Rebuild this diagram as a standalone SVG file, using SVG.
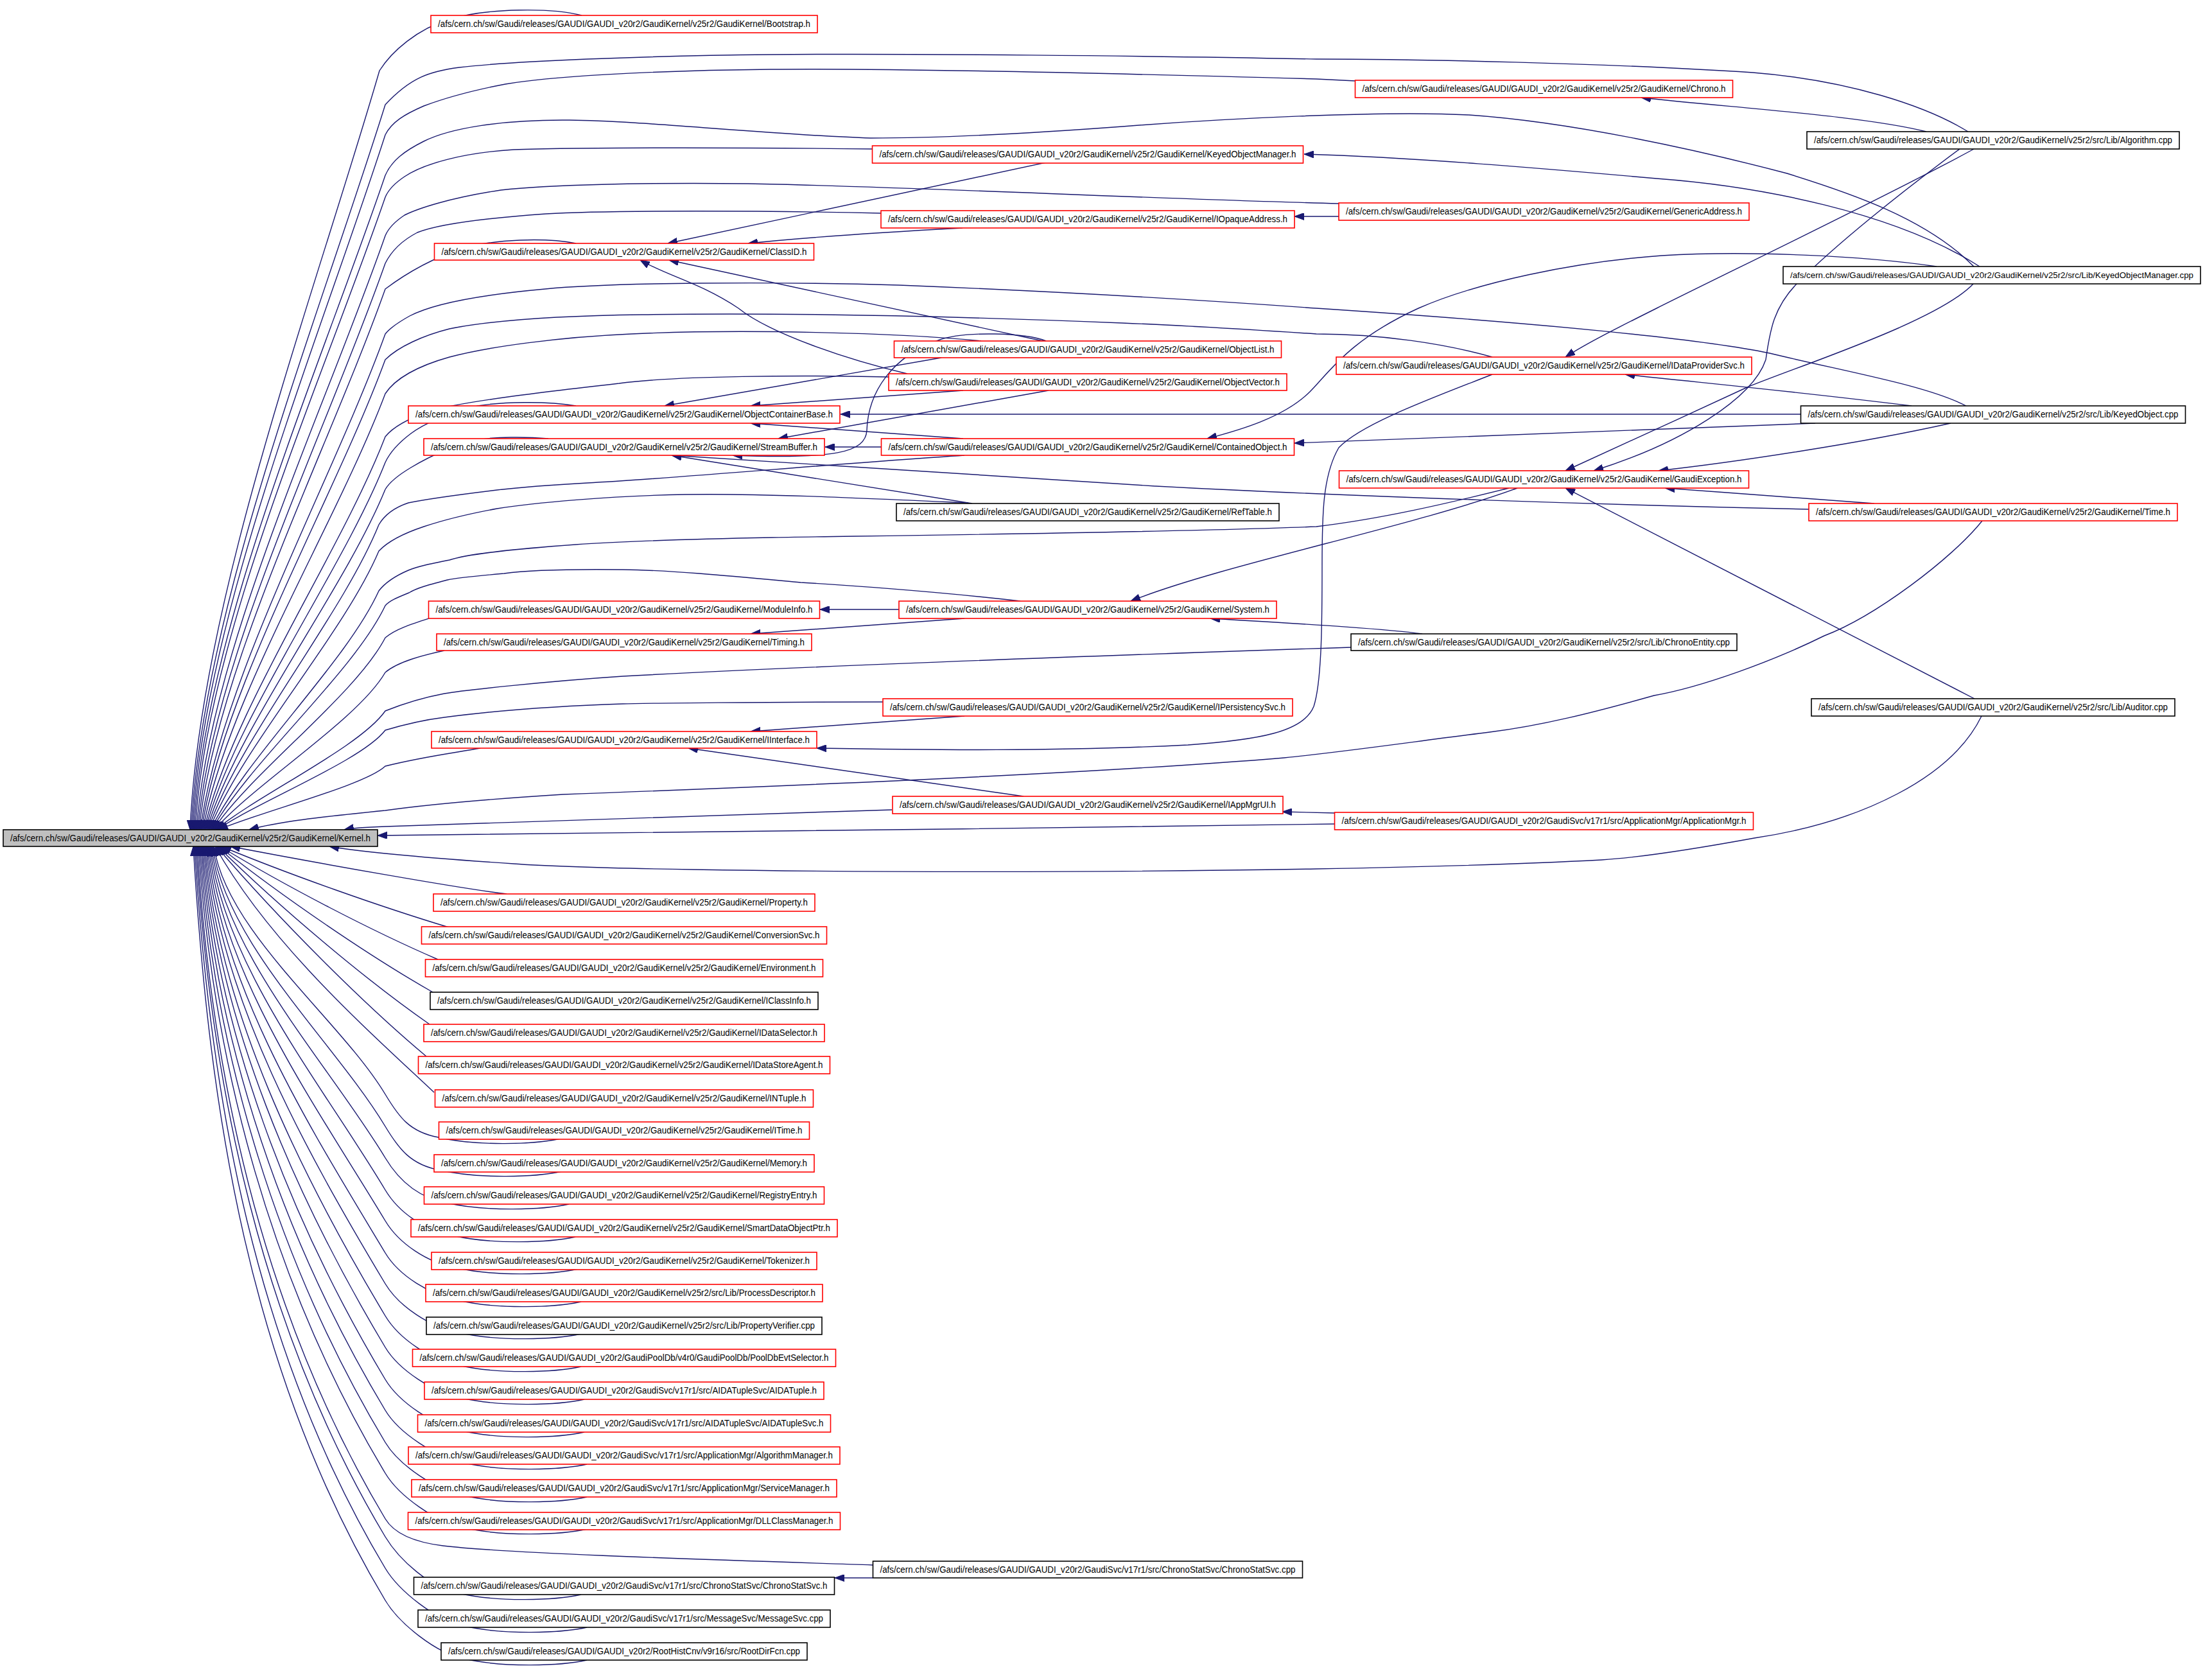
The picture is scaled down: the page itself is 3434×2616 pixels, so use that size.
<svg xmlns="http://www.w3.org/2000/svg" width="3434" height="2616" viewBox="0 0 3434 2616">
<defs>
<marker id="ah" viewBox="0 0 15 11" refX="15" refY="5.5" markerWidth="15" markerHeight="11" markerUnits="userSpaceOnUse" orient="auto"><path d="M0,0 L15,5.5 L0,11 z" fill="#191970" stroke="#191970" stroke-width="1"/></marker>
</defs>
<style>
.e path{fill:none;stroke:#191970;stroke-width:1.4;marker-end:url(#ah)}
rect{fill:#ffffff;stroke-width:1.6}
.r rect{stroke:#ff0000}
.b rect{stroke:#000000}
.k rect{fill:#bfbfbf;stroke:#000000}
text{font-family:"Liberation Sans",Arial,sans-serif;font-size:14px;text-anchor:middle;fill:#000000}
</style>
<rect x="0" y="0" width="3434" height="2616" style="fill:#ffffff;stroke:none"/>
<g id="edges" class="e">
<path d="M906,24 C860,12 760,12 700,30 C650,45 610,80 591,110 C488,465 311,937 296,1292"/>
<path d="M3065,205 C3000,165 2880,125 2730,113 C2500,98 2200,92 2050,92 C1800,87 1400,83 1200,85 C1000,87 800,95 715,105 C670,111 640,120 600,163 C494,502 313,953 298,1292"/>
<path d="M2111,126 L2050,123 C1800,116 1400,106 1200,108 C1000,110 850,120 787,131 C740,140 700,150 660,165 C630,178 610,190 600,210 C495,535 315,967 300,1292"/>
<path d="M3074,415 C3000,340 2880,300 2783,270 C2650,235 2450,190 2288,179 C2150,172 1900,185 1748,197 C1600,208 1450,215 1356,215 C1200,210 1000,188 887,187 C780,186 700,200 660,220 C630,235 610,250 600,273 C496,579 317,986 302,1292"/>
<path d="M1359,232 C1200,230 900,229 800,233 C720,238 660,255 630,275 C615,285 605,295 600,307 C498,603 320,996 304,1292"/>
<path d="M2085,317 C1800,310 1400,290 1165,286 C1000,284 850,288 780,296 C700,308 650,325 630,335 C615,345 605,355 600,367 C503,645 326,1014 306,1292"/>
<path d="M1372,332 C1200,328 950,327 850,333 C750,340 680,350 650,362 C625,375 610,390 600,410 C507,675 331,1027 308,1292"/>
<path d="M897,379 C850,370 770,372 720,387 C680,400 640,420 600,450 C510,703 336,1039 310,1292"/>
<path d="M3062,632 C3000,600 2880,580 2756,550 C2650,528 2400,503 2050,480 C1800,462 1600,452 1400,444 C1200,438 950,440 849,450 C760,458 680,470 638,492 C620,502 608,510 600,520 C516,752 343,1060 312,1292"/>
<path d="M2324,556 C2250,535 2150,520 2050,520 C1900,510 1800,505 1748,503 C1500,493 1250,486 1000,490 C850,492 760,500 700,512 C660,522 620,540 600,560 C519,780 347,1072 314,1292"/>
<path d="M1528,531 C1400,518 1150,512 983,520 C870,525 760,540 700,556 C650,570 615,590 600,613 C523,817 353,1088 316,1292"/>
<path d="M1385,587 C1250,584 1050,585 964,597 C850,610 720,625 670,640 C635,652 612,665 600,680 C529,864 359,1108 318,1292"/>
<path d="M897,632 C850,624 780,626 744,632 C700,642 660,660 640,675 C620,690 607,705 600,720 C532,892 364,1120 320,1292"/>
<path d="M854,683 C820,680 770,680 744,685 C705,694 670,710 640,728 C620,740 607,750 600,762 C535,921 369,1133 322,1292"/>
<path d="M1502,709 C1300,722 1050,745 915,752 C840,756 800,760 774,763 C700,772 660,778 636,783 C615,790 600,800 590,817 C532,960 372,1150 324,1292"/>
<path d="M1508,783 C1350,776 1180,768 1068,770 C950,772 830,783 774,792 C730,800 690,810 660,820 C630,830 605,842 590,858 C535,988 377,1162 326,1292"/>
<path d="M2350,760 C2250,785 2150,808 2050,820 C1800,830 1300,835 1202,837 C1050,840 950,844 896,848 C800,855 730,862 700,872 C670,878 650,882 636,888 C615,897 600,907 590,920 C539,1032 382,1180 328,1292"/>
<path d="M1589,936 C1450,920 1300,910 1247,907 C1150,898 1050,888 970,887 C880,886 820,888 785,893 C740,897 710,900 697,903 C670,910 650,915 637,923 C620,930 607,935 600,943 C550,1048 388,1187 330,1292"/>
<path d="M668,963 C640,972 615,980 600,993 C553,1083 392,1202 332,1292"/>
<path d="M692,1013 C660,1020 620,1030 600,1047 C557,1121 398,1219 334,1292"/>
<path d="M2104,1008 C1800,1018 1300,1035 970,1053 C850,1061 720,1075 692,1080 C660,1086 630,1095 600,1107 C561,1163 403,1237 336,1292"/>
<path d="M1375,1093 C1200,1093 1000,1095 970,1096 C850,1100 760,1108 692,1117 C660,1121 630,1128 600,1137 C564,1184 406,1246 338,1292"/>
<path d="M748,1165 C710,1172 660,1178 600,1193 C568,1223 412,1262 340,1292"/>
<path d="M3087,811 C3040,870 2920,960 2841,990 C2760,1030 2650,1070 2576,1083 C2480,1110 2400,1130 2320,1140 C2200,1155 2100,1170 2000,1180 C1700,1205 1200,1225 877,1237 C750,1245 650,1255 600,1262 C500,1272 430,1280 388,1292"/>
<path d="M1389,1261 C1100,1270 800,1280 600,1287 C570,1288 550,1289 536,1292"/>
<path d="M2079,1283 C1600,1290 900,1298 588,1301"/>
<path d="M3086,1115 C3040,1210 2900,1280 2732,1305 C2650,1320 2560,1335 2494,1339 C2000,1365 1000,1360 800,1345 C650,1335 560,1326 513,1318"/>
<path d="M789,1392 C720,1384 500,1345 359,1318"/>
<path d="M699,1444 C593,1412 451,1362 345,1318"/>
<path d="M682,1494 C580,1450 445,1380 343,1318"/>
<path d="M674,1545 C574,1488 441,1397 341,1318"/>
<path d="M669,1595 C570,1526 438,1415 339,1318"/>
<path d="M664,1645 C566,1563 435,1432 337,1318"/>
<path d="M676,1701 C574,1605 420,1470 335,1318"/>
<path d="M873,1773 C833,1782 743,1785 683,1771 C638,1763 621,1739 600,1704 C530,1588 354,1453 333,1318"/>
<path d="M875,1824 C835,1833 745,1836 685,1822 C640,1814 621,1789 600,1754 C521,1623 353,1471 331,1318"/>
<path d="M886,1875 C846,1884 756,1887 696,1873 C651,1865 621,1838 600,1803 C512,1657 351,1488 329,1318"/>
<path d="M896,1926 C856,1935 766,1938 706,1924 C661,1916 621,1888 600,1853 C504,1692 349,1505 327,1318"/>
<path d="M900,1976 C860,1985 770,1988 710,1974 C665,1966 621,1936 600,1901 C495,1726 347,1522 325,1318"/>
<path d="M905,2027 C865,2036 775,2039 715,2025 C670,2017 621,1986 600,1951 C486,1761 345,1540 323,1318"/>
<path d="M905,2077 C865,2086 775,2089 715,2075 C670,2067 621,2034 600,1999 C478,1795 343,1556 321,1318"/>
<path d="M905,2128 C865,2137 775,2140 715,2126 C670,2118 621,2084 600,2049 C469,1830 341,1574 319,1318"/>
<path d="M910,2179 C870,2188 780,2191 720,2177 C675,2169 621,2133 600,2098 C460,1864 340,1591 317,1318"/>
<path d="M910,2230 C870,2239 780,2242 720,2228 C675,2220 621,2183 600,2148 C451,1899 338,1608 315,1318"/>
<path d="M914,2280 C874,2289 784,2292 724,2278 C679,2270 621,2231 600,2196 C442,1933 336,1625 313,1318"/>
<path d="M914,2331 C874,2340 784,2343 724,2329 C679,2321 621,2281 600,2246 C433,1968 334,1643 311,1318"/>
<path d="M914,2381 C874,2390 784,2393 724,2379 C679,2371 621,2329 600,2294 C424,2001 332,1660 309,1318"/>
<path d="M1359,2437 C1150,2430 800,2420 690,2407 C650,2402 615,2390 600,2365 C412,2051 330,1684 307,1318"/>
<path d="M905,2483 C865,2492 775,2495 715,2481 C670,2473 621,2428 600,2393 C407,2071 329,1694 305,1318"/>
<path d="M914,2534 C874,2543 784,2546 724,2532 C679,2524 621,2477 600,2442 C398,2105 327,1711 303,1318"/>
<path d="M914,2585 C874,2594 784,2597 724,2583 C679,2575 621,2527 600,2492 C389,2140 325,1729 301,1318"/>
<path d="M3000,205 C2900,180 2700,168 2556,152"/>
<path d="M3074,232 C2950,300 2700,420 2580,480 C2520,510 2470,535 2438,556"/>
<path d="M3052,232 C2960,300 2860,380 2800,440 C2760,480 2756,520 2750,560 C2730,620 2620,690 2482,733"/>
<path d="M3083,415 C2950,330 2740,290 2580,278 C2400,262 2200,245 2031,240"/>
<path d="M3016,415 C2900,398 2720,390 2588,398 C2450,408 2300,440 2209,480 C2100,530 2070,580 2040,610 C2000,650 1930,670 1880,683"/>
<path d="M3074,441 C3020,500 2800,570 2721,603 C2630,645 2500,705 2438,733"/>
<path d="M2805,645 L1309,645"/>
<path d="M2827,659 C2500,672 2200,683 2016,690"/>
<path d="M2977,632 C2800,610 2650,596 2531,583"/>
<path d="M3038,659 C2900,690 2700,720 2583,733"/>
<path d="M2919,784 C2800,775 2700,768 2593,760"/>
<path d="M2817,793 C2500,786 2100,773 1800,757 C1500,740 1200,720 1046,709"/>
<path d="M3075,1088 L2438,760"/>
<path d="M2079,1266 L1997,1264"/>
<path d="M1594,1240 L1072,1165"/>
<path d="M1502,1115 L1169,1139"/>
<path d="M2324,583 C2230,620 2120,660 2085,697 C2060,740 2059,800 2059,880 C2059,960 2059,1060 2046,1100 C2030,1140 1960,1152 1850,1160 C1650,1170 1450,1168 1272,1165"/>
<path d="M2363,760 C2200,820 1900,880 1761,936"/>
<path d="M2215,987 C2150,978 2000,970 1885,963"/>
<path d="M1400,949 L1277,949"/>
<path d="M1502,963 L1169,987"/>
<path d="M2085,337 L2016,337"/>
<path d="M1499,355 C1350,363 1250,370 1165,379"/>
<path d="M1629,253 L1040,379"/>
<path d="M1624,531 L1042,405"/>
<path d="M1413,582 C1320,560 1200,520 1150,480 C1090,440 1040,430 997,405"/>
<path d="M1466,557 L1035,632"/>
<path d="M1500,608 L1169,632"/>
<path d="M1633,608 L1212,683"/>
<path d="M1372,696 L1285,696"/>
<path d="M1500,683 L1169,659"/>
<path d="M1514,784 L1046,709"/>
<path d="M1629,531 C1600,518 1500,515 1461,530 C1390,555 1352,610 1350,670 C1348,705 1300,715 1141,709"/>
<path d="M1359,2457 L1300,2457"/>
</g>
<g id="node-kernel" class="k"><rect x="5" y="1292" width="583" height="26"/><text x="296.5" y="1310" textLength="561" lengthAdjust="spacingAndGlyphs">/afs/cern.ch/sw/Gaudi/releases/GAUDI/GAUDI_v20r2/GaudiKernel/v25r2/GaudiKernel/Kernel.h</text></g>
<g id="node-bootstrap" class="r"><rect x="671" y="24" width="602" height="27"/><text x="972" y="42" textLength="580" lengthAdjust="spacingAndGlyphs">/afs/cern.ch/sw/Gaudi/releases/GAUDI/GAUDI_v20r2/GaudiKernel/v25r2/GaudiKernel/Bootstrap.h</text></g>
<g id="node-chrono" class="r"><rect x="2110.5" y="125" width="588" height="27"/><text x="2404.5" y="143" textLength="566" lengthAdjust="spacingAndGlyphs">/afs/cern.ch/sw/Gaudi/releases/GAUDI/GAUDI_v20r2/GaudiKernel/v25r2/GaudiKernel/Chrono.h</text></g>
<g id="node-algorithm-cpp" class="b"><rect x="2814" y="205" width="580" height="27"/><text x="3104" y="223" textLength="558" lengthAdjust="spacingAndGlyphs">/afs/cern.ch/sw/Gaudi/releases/GAUDI/GAUDI_v20r2/GaudiKernel/v25r2/src/Lib/Algorithm.cpp</text></g>
<g id="node-keyedobjectmanager-h" class="r"><rect x="1358.5" y="227" width="671" height="27"/><text x="1694" y="245" textLength="649" lengthAdjust="spacingAndGlyphs">/afs/cern.ch/sw/Gaudi/releases/GAUDI/GAUDI_v20r2/GaudiKernel/v25r2/GaudiKernel/KeyedObjectManager.h</text></g>
<g id="node-genericaddress" class="r"><rect x="2085" y="316" width="639" height="27"/><text x="2404.5" y="334" textLength="617" lengthAdjust="spacingAndGlyphs">/afs/cern.ch/sw/Gaudi/releases/GAUDI/GAUDI_v20r2/GaudiKernel/v25r2/GaudiKernel/GenericAddress.h</text></g>
<g id="node-keyedobjectmanager-cpp" class="b"><rect x="2777" y="415" width="650" height="27"/><text x="3102" y="433" style="font-size:13px" textLength="628" lengthAdjust="spacingAndGlyphs">/afs/cern.ch/sw/Gaudi/releases/GAUDI/GAUDI_v20r2/GaudiKernel/v25r2/src/Lib/KeyedObjectManager.cpp</text></g>
<g id="node-iopaqueaddress" class="r"><rect x="1372" y="328" width="644" height="27"/><text x="1694" y="346" textLength="622" lengthAdjust="spacingAndGlyphs">/afs/cern.ch/sw/Gaudi/releases/GAUDI/GAUDI_v20r2/GaudiKernel/v25r2/GaudiKernel/IOpaqueAddress.h</text></g>
<g id="node-classid" class="r"><rect x="676.5" y="379" width="591" height="26"/><text x="972" y="397" textLength="569" lengthAdjust="spacingAndGlyphs">/afs/cern.ch/sw/Gaudi/releases/GAUDI/GAUDI_v20r2/GaudiKernel/v25r2/GaudiKernel/ClassID.h</text></g>
<g id="node-objectlist" class="r"><rect x="1392.5" y="531" width="603" height="26"/><text x="1694" y="549" textLength="581" lengthAdjust="spacingAndGlyphs">/afs/cern.ch/sw/Gaudi/releases/GAUDI/GAUDI_v20r2/GaudiKernel/v25r2/GaudiKernel/ObjectList.h</text></g>
<g id="node-idataprovidersvc" class="r"><rect x="2081" y="556" width="647" height="27"/><text x="2404.5" y="574" textLength="625" lengthAdjust="spacingAndGlyphs">/afs/cern.ch/sw/Gaudi/releases/GAUDI/GAUDI_v20r2/GaudiKernel/v25r2/GaudiKernel/IDataProviderSvc.h</text></g>
<g id="node-objectvector" class="r"><rect x="1384" y="582" width="620" height="26"/><text x="1694" y="600" textLength="598" lengthAdjust="spacingAndGlyphs">/afs/cern.ch/sw/Gaudi/releases/GAUDI/GAUDI_v20r2/GaudiKernel/v25r2/GaudiKernel/ObjectVector.h</text></g>
<g id="node-objectcontainerbase" class="r"><rect x="636" y="632" width="672" height="27"/><text x="972" y="650" textLength="650" lengthAdjust="spacingAndGlyphs">/afs/cern.ch/sw/Gaudi/releases/GAUDI/GAUDI_v20r2/GaudiKernel/v25r2/GaudiKernel/ObjectContainerBase.h</text></g>
<g id="node-keyedobject-cpp" class="b"><rect x="2804.5" y="632" width="599" height="27"/><text x="3104" y="650" textLength="577" lengthAdjust="spacingAndGlyphs">/afs/cern.ch/sw/Gaudi/releases/GAUDI/GAUDI_v20r2/GaudiKernel/v25r2/src/Lib/KeyedObject.cpp</text></g>
<g id="node-streambuffer" class="r"><rect x="660" y="683" width="624" height="26"/><text x="972" y="701" textLength="602" lengthAdjust="spacingAndGlyphs">/afs/cern.ch/sw/Gaudi/releases/GAUDI/GAUDI_v20r2/GaudiKernel/v25r2/GaudiKernel/StreamBuffer.h</text></g>
<g id="node-containedobject" class="r"><rect x="1372.5" y="683" width="643" height="26"/><text x="1694" y="701" textLength="621" lengthAdjust="spacingAndGlyphs">/afs/cern.ch/sw/Gaudi/releases/GAUDI/GAUDI_v20r2/GaudiKernel/v25r2/GaudiKernel/ContainedObject.h</text></g>
<g id="node-gaudiexception" class="r"><rect x="2085.5" y="733" width="638" height="27"/><text x="2404.5" y="751" textLength="616" lengthAdjust="spacingAndGlyphs">/afs/cern.ch/sw/Gaudi/releases/GAUDI/GAUDI_v20r2/GaudiKernel/v25r2/GaudiKernel/GaudiException.h</text></g>
<g id="node-reftable" class="b"><rect x="1396" y="784" width="596" height="27"/><text x="1694" y="802" textLength="574" lengthAdjust="spacingAndGlyphs">/afs/cern.ch/sw/Gaudi/releases/GAUDI/GAUDI_v20r2/GaudiKernel/v25r2/GaudiKernel/RefTable.h</text></g>
<g id="node-time" class="r"><rect x="2817" y="784" width="574" height="27"/><text x="3104" y="802" textLength="552" lengthAdjust="spacingAndGlyphs">/afs/cern.ch/sw/Gaudi/releases/GAUDI/GAUDI_v20r2/GaudiKernel/v25r2/GaudiKernel/Time.h</text></g>
<g id="node-moduleinfo" class="r"><rect x="667.5" y="936" width="609" height="27"/><text x="972" y="954" textLength="587" lengthAdjust="spacingAndGlyphs">/afs/cern.ch/sw/Gaudi/releases/GAUDI/GAUDI_v20r2/GaudiKernel/v25r2/GaudiKernel/ModuleInfo.h</text></g>
<g id="node-system" class="r"><rect x="1400" y="936" width="588" height="27"/><text x="1694" y="954" textLength="566" lengthAdjust="spacingAndGlyphs">/afs/cern.ch/sw/Gaudi/releases/GAUDI/GAUDI_v20r2/GaudiKernel/v25r2/GaudiKernel/System.h</text></g>
<g id="node-timing" class="r"><rect x="680" y="987" width="584" height="26"/><text x="972" y="1005" textLength="562" lengthAdjust="spacingAndGlyphs">/afs/cern.ch/sw/Gaudi/releases/GAUDI/GAUDI_v20r2/GaudiKernel/v25r2/GaudiKernel/Timing.h</text></g>
<g id="node-chronoentity-cpp" class="b"><rect x="2104" y="987" width="601" height="26"/><text x="2404.5" y="1005" textLength="579" lengthAdjust="spacingAndGlyphs">/afs/cern.ch/sw/Gaudi/releases/GAUDI/GAUDI_v20r2/GaudiKernel/v25r2/src/Lib/ChronoEntity.cpp</text></g>
<g id="node-ipersistencysvc" class="r"><rect x="1375" y="1088" width="638" height="27"/><text x="1694" y="1106" textLength="616" lengthAdjust="spacingAndGlyphs">/afs/cern.ch/sw/Gaudi/releases/GAUDI/GAUDI_v20r2/GaudiKernel/v25r2/GaudiKernel/IPersistencySvc.h</text></g>
<g id="node-auditor-cpp" class="b"><rect x="2821" y="1088" width="566" height="27"/><text x="3104" y="1106" textLength="544" lengthAdjust="spacingAndGlyphs">/afs/cern.ch/sw/Gaudi/releases/GAUDI/GAUDI_v20r2/GaudiKernel/v25r2/src/Lib/Auditor.cpp</text></g>
<g id="node-iinterface" class="r"><rect x="672" y="1139" width="600" height="26"/><text x="972" y="1157" textLength="578" lengthAdjust="spacingAndGlyphs">/afs/cern.ch/sw/Gaudi/releases/GAUDI/GAUDI_v20r2/GaudiKernel/v25r2/GaudiKernel/IInterface.h</text></g>
<g id="node-iappmgrui" class="r"><rect x="1390" y="1240" width="608" height="27"/><text x="1694" y="1258" textLength="586" lengthAdjust="spacingAndGlyphs">/afs/cern.ch/sw/Gaudi/releases/GAUDI/GAUDI_v20r2/GaudiKernel/v25r2/GaudiKernel/IAppMgrUI.h</text></g>
<g id="node-applicationmgr" class="r"><rect x="2078.5" y="1265" width="652" height="27"/><text x="2404.5" y="1283" textLength="630" lengthAdjust="spacingAndGlyphs">/afs/cern.ch/sw/Gaudi/releases/GAUDI/GAUDI_v20r2/GaudiSvc/v17r1/src/ApplicationMgr/ApplicationMgr.h</text></g>
<g id="node-property" class="r"><rect x="675" y="1392" width="594" height="27"/><text x="972" y="1410" textLength="572" lengthAdjust="spacingAndGlyphs">/afs/cern.ch/sw/Gaudi/releases/GAUDI/GAUDI_v20r2/GaudiKernel/v25r2/GaudiKernel/Property.h</text></g>
<g id="node-conversionsvc" class="r"><rect x="656.5" y="1443" width="631" height="27"/><text x="972" y="1461" textLength="609" lengthAdjust="spacingAndGlyphs">/afs/cern.ch/sw/Gaudi/releases/GAUDI/GAUDI_v20r2/GaudiKernel/v25r2/GaudiKernel/ConversionSvc.h</text></g>
<g id="node-environment" class="r"><rect x="662.5" y="1494" width="619" height="27"/><text x="972" y="1512" textLength="597" lengthAdjust="spacingAndGlyphs">/afs/cern.ch/sw/Gaudi/releases/GAUDI/GAUDI_v20r2/GaudiKernel/v25r2/GaudiKernel/Environment.h</text></g>
<g id="node-iclassinfo" class="b"><rect x="670" y="1545" width="604" height="27"/><text x="972" y="1563" textLength="582" lengthAdjust="spacingAndGlyphs">/afs/cern.ch/sw/Gaudi/releases/GAUDI/GAUDI_v20r2/GaudiKernel/v25r2/GaudiKernel/IClassInfo.h</text></g>
<g id="node-idataselector" class="r"><rect x="660" y="1595" width="624" height="27"/><text x="972" y="1613" textLength="602" lengthAdjust="spacingAndGlyphs">/afs/cern.ch/sw/Gaudi/releases/GAUDI/GAUDI_v20r2/GaudiKernel/v25r2/GaudiKernel/IDataSelector.h</text></g>
<g id="node-idatastoreagent" class="r"><rect x="651.5" y="1645" width="641" height="27"/><text x="972" y="1663" textLength="619" lengthAdjust="spacingAndGlyphs">/afs/cern.ch/sw/Gaudi/releases/GAUDI/GAUDI_v20r2/GaudiKernel/v25r2/GaudiKernel/IDataStoreAgent.h</text></g>
<g id="node-intuple" class="r"><rect x="677.5" y="1697" width="589" height="27"/><text x="972" y="1715" textLength="567" lengthAdjust="spacingAndGlyphs">/afs/cern.ch/sw/Gaudi/releases/GAUDI/GAUDI_v20r2/GaudiKernel/v25r2/GaudiKernel/INTuple.h</text></g>
<g id="node-itime" class="r"><rect x="683.5" y="1747" width="577" height="27"/><text x="972" y="1765" textLength="555" lengthAdjust="spacingAndGlyphs">/afs/cern.ch/sw/Gaudi/releases/GAUDI/GAUDI_v20r2/GaudiKernel/v25r2/GaudiKernel/ITime.h</text></g>
<g id="node-memory" class="r"><rect x="676" y="1798" width="592" height="27"/><text x="972" y="1816" textLength="570" lengthAdjust="spacingAndGlyphs">/afs/cern.ch/sw/Gaudi/releases/GAUDI/GAUDI_v20r2/GaudiKernel/v25r2/GaudiKernel/Memory.h</text></g>
<g id="node-registryentry" class="r"><rect x="660.5" y="1848" width="623" height="27"/><text x="972" y="1866" textLength="601" lengthAdjust="spacingAndGlyphs">/afs/cern.ch/sw/Gaudi/releases/GAUDI/GAUDI_v20r2/GaudiKernel/v25r2/GaudiKernel/RegistryEntry.h</text></g>
<g id="node-smartdataobjectptr" class="r"><rect x="640" y="1899" width="664" height="27"/><text x="972" y="1917" textLength="642" lengthAdjust="spacingAndGlyphs">/afs/cern.ch/sw/Gaudi/releases/GAUDI/GAUDI_v20r2/GaudiKernel/v25r2/GaudiKernel/SmartDataObjectPtr.h</text></g>
<g id="node-tokenizer" class="r"><rect x="672" y="1950" width="600" height="27"/><text x="972" y="1968" textLength="578" lengthAdjust="spacingAndGlyphs">/afs/cern.ch/sw/Gaudi/releases/GAUDI/GAUDI_v20r2/GaudiKernel/v25r2/GaudiKernel/Tokenizer.h</text></g>
<g id="node-processdescriptor" class="r"><rect x="663" y="2000" width="618" height="27"/><text x="972" y="2018" textLength="596" lengthAdjust="spacingAndGlyphs">/afs/cern.ch/sw/Gaudi/releases/GAUDI/GAUDI_v20r2/GaudiKernel/v25r2/src/Lib/ProcessDescriptor.h</text></g>
<g id="node-propertyverifier-cpp" class="b"><rect x="664" y="2051" width="616" height="27"/><text x="972" y="2069" textLength="594" lengthAdjust="spacingAndGlyphs">/afs/cern.ch/sw/Gaudi/releases/GAUDI/GAUDI_v20r2/GaudiKernel/v25r2/src/Lib/PropertyVerifier.cpp</text></g>
<g id="node-pooldbevtselector" class="r"><rect x="642.5" y="2101" width="659" height="27"/><text x="972" y="2119" textLength="637" lengthAdjust="spacingAndGlyphs">/afs/cern.ch/sw/Gaudi/releases/GAUDI/GAUDI_v20r2/GaudiPoolDb/v4r0/GaudiPoolDb/PoolDbEvtSelector.h</text></g>
<g id="node-aidatuple" class="r"><rect x="661" y="2152" width="622" height="27"/><text x="972" y="2170" textLength="600" lengthAdjust="spacingAndGlyphs">/afs/cern.ch/sw/Gaudi/releases/GAUDI/GAUDI_v20r2/GaudiSvc/v17r1/src/AIDATupleSvc/AIDATuple.h</text></g>
<g id="node-aidatuplesvc" class="r"><rect x="650.5" y="2203" width="643" height="27"/><text x="972" y="2221" textLength="621" lengthAdjust="spacingAndGlyphs">/afs/cern.ch/sw/Gaudi/releases/GAUDI/GAUDI_v20r2/GaudiSvc/v17r1/src/AIDATupleSvc/AIDATupleSvc.h</text></g>
<g id="node-algorithmmanager" class="r"><rect x="636" y="2253" width="672" height="27"/><text x="972" y="2271" textLength="650" lengthAdjust="spacingAndGlyphs">/afs/cern.ch/sw/Gaudi/releases/GAUDI/GAUDI_v20r2/GaudiSvc/v17r1/src/ApplicationMgr/AlgorithmManager.h</text></g>
<g id="node-servicemanager" class="r"><rect x="641" y="2304" width="662" height="27"/><text x="972" y="2322" textLength="640" lengthAdjust="spacingAndGlyphs">/afs/cern.ch/sw/Gaudi/releases/GAUDI/GAUDI_v20r2/GaudiSvc/v17r1/src/ApplicationMgr/ServiceManager.h</text></g>
<g id="node-dllclassmanager" class="r"><rect x="635.5" y="2355" width="673" height="27"/><text x="972" y="2373" textLength="651" lengthAdjust="spacingAndGlyphs">/afs/cern.ch/sw/Gaudi/releases/GAUDI/GAUDI_v20r2/GaudiSvc/v17r1/src/ApplicationMgr/DLLClassManager.h</text></g>
<g id="node-chronostatsvc-cpp" class="b"><rect x="1359.5" y="2431" width="669" height="26"/><text x="1694" y="2449" textLength="647" lengthAdjust="spacingAndGlyphs">/afs/cern.ch/sw/Gaudi/releases/GAUDI/GAUDI_v20r2/GaudiSvc/v17r1/src/ChronoStatSvc/ChronoStatSvc.cpp</text></g>
<g id="node-chronostatsvc-h" class="b"><rect x="644.5" y="2456" width="655" height="27"/><text x="972" y="2474" textLength="633" lengthAdjust="spacingAndGlyphs">/afs/cern.ch/sw/Gaudi/releases/GAUDI/GAUDI_v20r2/GaudiSvc/v17r1/src/ChronoStatSvc/ChronoStatSvc.h</text></g>
<g id="node-messagesvc-cpp" class="b"><rect x="651" y="2507" width="642" height="27"/><text x="972" y="2525" textLength="620" lengthAdjust="spacingAndGlyphs">/afs/cern.ch/sw/Gaudi/releases/GAUDI/GAUDI_v20r2/GaudiSvc/v17r1/src/MessageSvc/MessageSvc.cpp</text></g>
<g id="node-rootdirfcn-cpp" class="b"><rect x="687" y="2558" width="570" height="27"/><text x="972" y="2576" textLength="548" lengthAdjust="spacingAndGlyphs">/afs/cern.ch/sw/Gaudi/releases/GAUDI/GAUDI_v20r2/RootHistCnv/v9r16/src/RootDirFcn.cpp</text></g>
</svg>
